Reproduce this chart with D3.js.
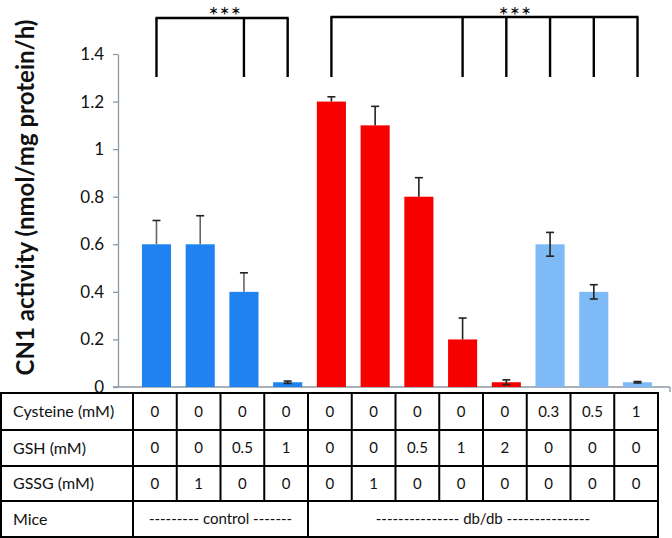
<!DOCTYPE html>
<html>
<head>
<meta charset="utf-8">
<script src="https://cdn.jsdelivr.net/npm/d3@7"></script>
<style>
  html, body { margin: 0; padding: 0; background: #fff; }
  svg { display: block; }
  text { font-family: Lato, "Open Sans", sans-serif; }
</style>
</head>
<body>
<svg id="chart" width="672" height="538"></svg>
<script>
// ---- data ----
const values   = [0.6, 0.6, 0.4, 0.02, 1.2, 1.1, 0.8, 0.2, 0.02, 0.6, 0.4, 0.02];
const errUp    = [0.1, 0.12, 0.08, 0.005, 0.02, 0.08, 0.08, 0.09, 0.01, 0.05, 0.03, 0.003];
const errDown  = [0, 0, 0, 0.005, 0, 0, 0, 0, 0.01, 0.05, 0.03, 0.003];
const groups   = ["control", "control", "control", "control", "db", "db", "db", "db", "db", "cys", "cys", "cys"];
const yTicks   = [0, 0.2, 0.4, 0.6, 0.8, 1, 1.2, 1.4];
const rowLabels = ["Cysteine (mM)", "GSH (mM)", "GSSG (mM)", "Mice"];
const cysteine = ["0", "0", "0", "0", "0", "0", "0", "0", "0", "0.3", "0.5", "1"];
const gsh      = ["0", "0", "0.5", "1", "0", "0", "0.5", "1", "2", "0", "0", "0"];
const gssg     = ["0", "1", "0", "0", "0", "1", "0", "0", "0", "0", "0", "0"];
const miceSpans = [
  { label: "--------- control -------", from: 0, to: 3 },
  { label: "--------------- db/db ---------------", from: 4, to: 11 }
];
const brackets = [
  { bars: [0, 2, 3], label: "***" },
  { bars: [4, 7, 8, 9, 10, 11], label: "***" }
];
const colors = { control: "#1f82f0", db: "#f70000", cys: "#7dbaf6" };

// ---- layout ----
const svg = d3.select("#chart");
const idx = d3.range(values.length);

const y = d3.scaleLinear().domain([0, 1.4]).range([387, 54]);
const x = d3.scaleBand().domain(idx).range([134.5, 659.5]).paddingInner(0.335).paddingOuter(0.17);
const col = d3.scaleBand().domain(idx).range([133, 658]).padding(0);
const xc = i => x(i) + x.bandwidth() / 2;

// y axis
const yAxis = d3.axisLeft(y).tickValues(yTicks).tickFormat(d3.format("~g")).tickSize(5).tickSizeOuter(0);
const ga = svg.append("g").attr("transform", "translate(118,0)").call(yAxis);
ga.select(".domain").attr("stroke", "#8c98a4").attr("stroke-width", 1.3);
ga.selectAll(".tick line").attr("stroke", "#8c98a4").attr("stroke-width", 1.3);
ga.selectAll(".tick text").attr("font-family", "Lato, sans-serif").attr("font-size", 17).attr("fill", "#111").attr("x", -14);

// x axis line
svg.append("line").attr("x1", 113).attr("x2", 670).attr("y1", y(0)).attr("y2", y(0))
  .attr("stroke", "#8c98a4").attr("stroke-width", 1.3);
svg.append("line").attr("x1", 670).attr("x2", 670).attr("y1", y(0)).attr("y2", y(0) + 5)
  .attr("stroke", "#8c98a4").attr("stroke-width", 1.3);

// y label
svg.append("text")
  .attr("transform", `translate(34,${(23 + 372) / 2}) rotate(-90)`)
  .attr("text-anchor", "middle")
  .attr("font-size", 24).attr("font-weight", "bold").attr("fill", "#111")
  .text("CN1 activity (nmol/mg protein/h)");

// bars
svg.append("g").selectAll("rect").data(idx).join("rect")
  .attr("x", i => x(i)).attr("width", x.bandwidth())
  .attr("y", i => y(values[i])).attr("height", i => y(0) - y(values[i]))
  .attr("fill", i => colors[groups[i]]);

// error bars
const eg = svg.append("g").attr("stroke", "#222").attr("stroke-width", 1.6);
idx.forEach(i => {
  const top = y(values[i] + errUp[i]);
  const bot = y(values[i] - errDown[i]);
  eg.append("line").attr("x1", xc(i)).attr("x2", xc(i)).attr("y1", top).attr("y2", bot)
    .attr("stroke", groups[i] === "control" && i < 3 ? "#666" : "#222");
  eg.append("line").attr("x1", xc(i) - 4).attr("x2", xc(i) + 4).attr("y1", top).attr("y2", top);
  if (errDown[i] > 0)
    eg.append("line").attr("x1", xc(i) - 4).attr("x2", xc(i) + 4).attr("y1", bot).attr("y2", bot);
});

// significance brackets
const bTop = [18, 17], bBot = 77;
const starX = [xc(1) + 25, xc(8) + 9];
brackets.forEach((b, k) => {
  const g = svg.append("g").attr("stroke", "#000").attr("stroke-width", 2.4).attr("fill", "none");
  const x0 = xc(b.bars[0]), x1 = xc(b.bars[b.bars.length - 1]);
  g.append("line").attr("x1", x0 - 1).attr("x2", x1 + 1).attr("y1", bTop[k]).attr("y2", bTop[k]);
  b.bars.forEach(i => {
    g.append("line").attr("x1", xc(i)).attr("x2", xc(i)).attr("y1", bTop[k]).attr("y2", bBot);
  });
  svg.append("text").attr("x", starX[k]).attr("y", 24)
    .attr("text-anchor", "middle").attr("font-size", 24).attr("letter-spacing", 1)
    .attr("font-family", "Lato, sans-serif").attr("fill", "#000")
    .text(b.label);
});

// table
const rowsY = [393, 430, 466, 501, 537];
const tg = svg.append("g").attr("stroke", "#000").attr("stroke-width", 2);
rowsY.forEach(r => tg.append("line").attr("x1", 0).attr("x2", col(11) + col.bandwidth() + 1).attr("y1", r).attr("y2", r));
tg.append("line").attr("x1", 1).attr("x2", 1).attr("y1", rowsY[0]).attr("y2", rowsY[4]);
tg.append("line").attr("x1", col(0)).attr("x2", col(0)).attr("y1", rowsY[0]).attr("y2", rowsY[4]);
idx.forEach(i => {
  const xr = col(i) + col.bandwidth();
  const full = miceSpans.some(s => s.to === i);
  tg.append("line").attr("x1", xr).attr("x2", xr).attr("y1", rowsY[0]).attr("y2", full ? rowsY[4] : rowsY[3]);
});

const tt = svg.append("g").attr("font-size", 15).attr("fill", "#111");
rowLabels.forEach((lab, r) => {
  tt.append("text").attr("x", 13).attr("y", (rowsY[r] + rowsY[r + 1]) / 2).attr("dy", "0.35em")
    .attr("font-size", 16).text(lab);
});
[cysteine, gsh, gssg].forEach((row, r) => {
  row.forEach((v, i) => {
    tt.append("text").attr("x", col(i) + col.bandwidth() / 2).attr("y", (rowsY[r] + rowsY[r + 1]) / 2)
      .attr("dy", "0.35em").attr("text-anchor", "middle").text(v);
  });
});
miceSpans.forEach(s => {
  const cx = (col(s.from) + col(s.to) + col.bandwidth()) / 2;
  tt.append("text").attr("x", cx).attr("y", (rowsY[3] + rowsY[4]) / 2).attr("dy", "0.35em")
    .attr("text-anchor", "middle").text(s.label);
});
</script>
</body>
</html>
